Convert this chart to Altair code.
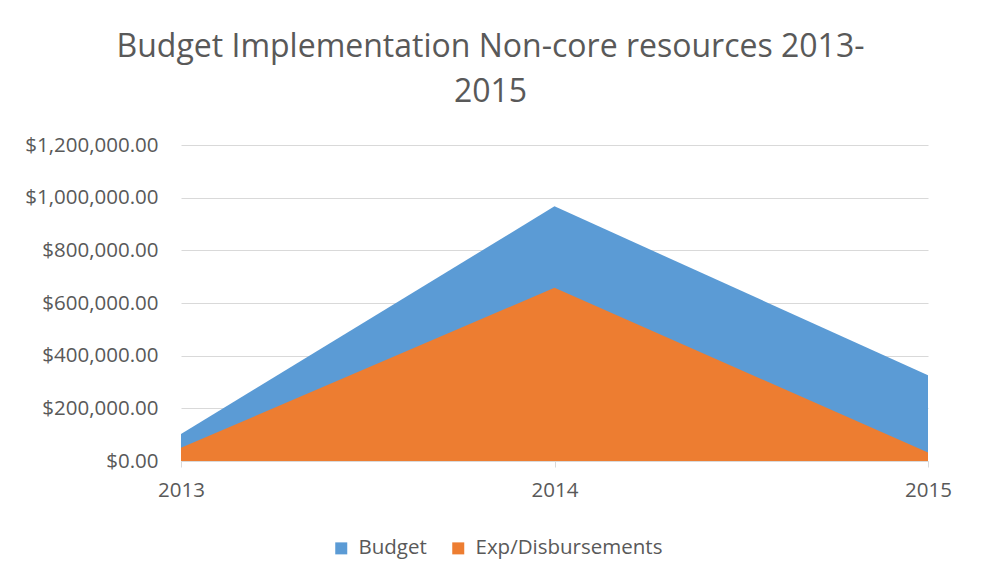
import altair as alt
import pandas as pd

years = ["2013", "2014", "2015"]
budget = [103000, 967000, 326000]
expenditure = [50000, 658000, 32000]
series_names = ["Budget", "Exp/Disbursements"]
colors = ["#5B9BD5", "#ED7D31"]

rows = []
for name, vals in zip(series_names, [budget, expenditure]):
    for y, v in zip(years, vals):
        rows.append({"Year": y, "Series": name, "Value": v})
df = pd.DataFrame(rows)

FONT = "Open Sans"
TXT = "#595959"

x_enc = alt.X("Year:O", title=None,
              scale=alt.Scale(padding=0),
              axis=alt.Axis(labelAngle=0, labelFontSize=20.5, labelColor=TXT,
                            labelFont=FONT, domainColor="#d9d9d9", tickColor="#d9d9d9",
                            tickSize=6, labelPadding=13, grid=False))
y_enc = alt.Y("Value:Q", title=None, stack=None,
              scale=alt.Scale(domain=[0, 1200000]),
              axis=alt.Axis(values=[0, 200000, 400000, 600000, 800000, 1000000, 1200000],
                            format="$,.2f", labelFontSize=20.5, labelColor=TXT,
                            labelFont=FONT, domain=False, ticks=False,
                            labelPadding=23, gridColor="#d9d9d9"))
color_enc = alt.Color("Series:N",
                      scale=alt.Scale(domain=series_names, range=colors),
                      legend=alt.Legend(title=None, orient="none", direction="horizontal",
                                        legendX=150, legendY=393,
                                        symbolType="square", symbolSize=144,
                                        labelFontSize=20.5, labelColor=TXT,
                                        labelFont=FONT, columnPadding=21, labelOffset=7,
                                        labelLimit=400,
                                        symbolStrokeWidth=0, symbolOpacity=1))

base = alt.Chart(df).encode(x=x_enc, y=y_enc, color=color_enc)
budget_layer = base.transform_filter(alt.datum.Series == "Budget").mark_area(opacity=1)
exp_layer = base.transform_filter(alt.datum.Series == "Exp/Disbursements").mark_area(opacity=1)

chart = alt.layer(budget_layer, exp_layer).properties(
    width=747, height=316,
    title=alt.TitleParams(
        text=["Budget Implementation Non-core resources 2013-", "2015"],
        fontSize=32, font=FONT, fontWeight="normal", color=TXT,
        anchor="middle", dx=-64, lineHeight=45, offset=26),
    autosize=alt.AutoSizeParams(type="none"),
    padding={"left": 181, "top": 145, "right": 53, "bottom": 124},
    background="white",
).configure_view(stroke=None)

chart.save("out.html", embed_options={"renderer": "svg", "actions": False})
